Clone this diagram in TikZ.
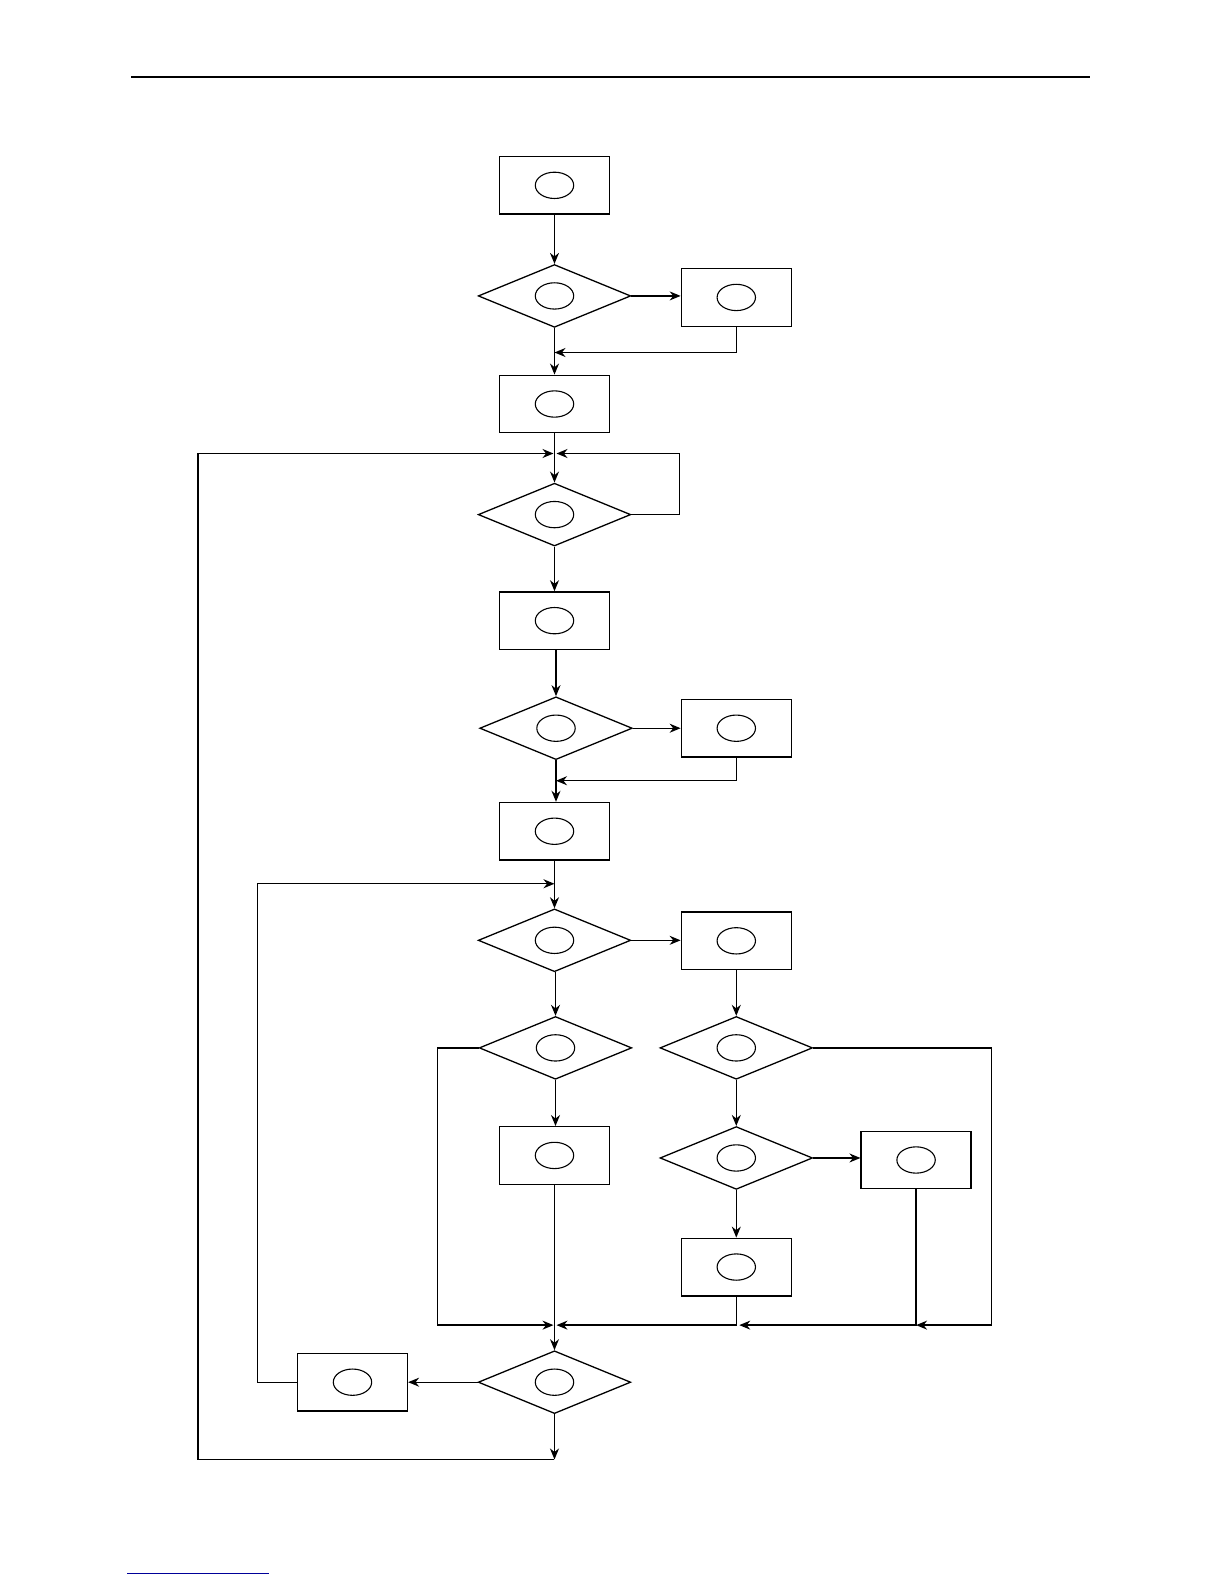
\documentclass[tikz,border=0pt]{standalone}
\usetikzlibrary{shapes.geometric,arrows.meta}
\begin{document}
\begin{tikzpicture}[x=1.01pt,y=-1.01pt,
  line width=1.3pt,
  boxnode/.style={draw,rectangle,minimum width=110pt,minimum height=57.6pt,inner sep=0pt},
  dianode/.style={draw,diamond,minimum width=152.5pt,minimum height=62.8pt,inner sep=0pt},
  ellnode/.style={draw,ellipse,minimum width=38.4pt,minimum height=26.3pt,inner sep=0pt,line width=1.1pt},
  arr/.style={-{Stealth[length=11pt,width=9pt]}}]
\fill[white] (0,0) rectangle (1211.88,1568.32);
\useasboundingbox (0,0) rectangle (1211.88,1568.32);
% header rule and footer line
\draw[line width=2pt] (130,76) -- (1079,76);
\draw[line width=1pt,blue!60!black] (126,1558) -- (266,1558);
% nodes
\node[boxnode] (b1) at (549,183.5) {};
\node[dianode] (d1) at (549,293) {};
\node[boxnode] (b2) at (729,294.5) {};
\node[boxnode] (b3) at (549,400) {};
\node[dianode] (d2) at (549,509.5) {};
\node[boxnode] (b4) at (549,614.5) {};
\node[dianode] (d3) at (550.5,721) {};
\node[boxnode] (b5) at (729,721) {};
\node[boxnode] (b6) at (549,823) {};
\node[dianode] (d4) at (549,931) {};
\node[boxnode] (b7) at (729,931.5) {};
\node[dianode] (d5) at (550,1037.5) {};
\node[dianode] (d6) at (729,1037.5) {};
\node[boxnode] (b8) at (549,1144) {};
\node[dianode] (d7) at (729,1146.5) {};
\node[boxnode] (b9) at (907,1148.5) {};
\node[boxnode] (b10) at (729,1254.5) {};
\node[dianode] (d9) at (549,1368.5) {};
\node[boxnode] (bL) at (349,1368.5) {};
% inner ellipses
\foreach \n in {b1,d1,b2,b3,d2,b4,d3,b5,b6,d4,b7,d5,d6,b8,d7,b9,b10,d9,bL}
  \node[ellnode] (e\n) at (\n.center) {};
% junction coordinates
\coordinate (j1) at (549,349);
\coordinate (j2) at (549,449);
\coordinate (j3) at (550.5,773);
\coordinate (j4) at (549,875);
\coordinate (j5) at (549,1312);
\coordinate (j6) at (729,1312);
\coordinate (j7) at (907,1312);
\coordinate (j9) at (549,1445);
% connectors
\draw[arr] (b1.south) -- (d1.north);
\draw[arr] (d1.east) -- (d1.east -| b2.west);
\draw[arr] (b2.south) |- (j1);
\draw[arr] (d1.south) -- (b3.north);
\draw[arr] (b3.south) -- (d2.north);
\draw[arr] (d2.east) -- (673,509.5) -- (673,449) -- ([xshift=2pt]j2);
\draw[arr] (d2.south) -- (b4.north);
\draw[arr] (b4.south -| d3.north) -- (d3.north);
\draw[arr] (d3.east) -- (d3.east -| b5.west);
\draw[arr] (b5.south) |- (j3);
\draw[arr] (d3.south) -- (d3.south |- b6.north);
\draw[arr] (b6.south) -- (d4.north);
\draw[arr] (d4.east) -- (d4.east -| b7.west);
\draw[arr] (d4.south -| d5.north) -- (d5.north);
\draw[arr] (b7.south) -- (d6.north);
\draw[arr] (d5.west) -- (433,1037.5) -- (433,1312) -- ([xshift=-1pt]j5);
\draw[arr] (d5.south) -- (d5.south |- b8.north);
\draw[arr] (b8.south) -- (d9.north);
\draw[arr] (d6.south) -- (d7.north);
\draw[arr] (d6.east) -- (982,1037.5) -- (982,1312) -- (j7);
\draw[arr] (d7.east) -- (d7.east -| b9.west);
\draw[arr] (b9.south) -- (j7) -- ([xshift=3pt]j6);
\draw[arr] (d7.south) -- (b10.north);
\draw[arr] (b10.south) -- (j6) -- ([xshift=2pt]j5);
\draw[arr] (d9.west) -- (bL.east);
\draw[arr] (bL.west) -- (255,1368.5) -- (255,875) -- (j4);
\draw[arr] (d9.south) -- (j9);
\draw[arr] (j9) -- (196,1445) -- (196,449) -- ([xshift=-1pt]j2);
\end{tikzpicture}
\end{document}
